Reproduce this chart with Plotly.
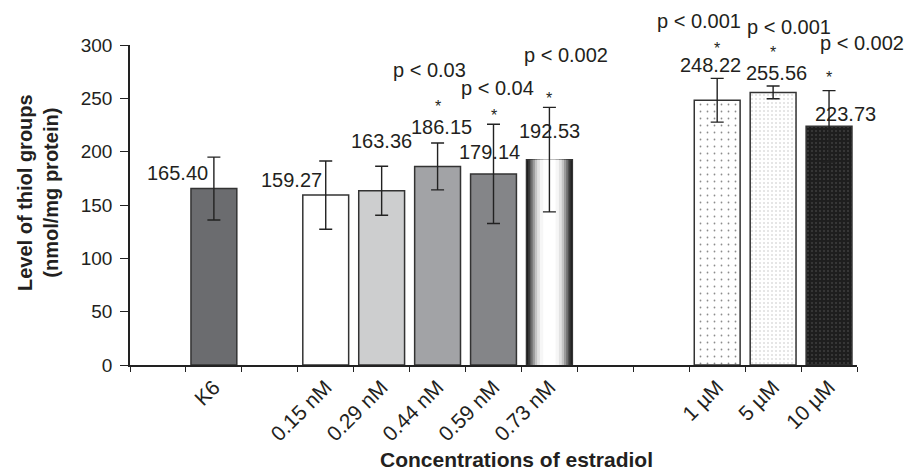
import plotly.graph_objects as go

# ---------------- data ----------------
axis_slots = ["_a", "K6", "_b", "0.15 nM", "0.29 nM", "0.44 nM", "0.59 nM", "0.73 nM",
              "_c", "_d", "1 µM", "5 µM", "10 µM"]
categories = ["K6", "0.15 nM", "0.29 nM", "0.44 nM", "0.59 nM", "0.73 nM", "1 µM", "5 µM", "10 µM"]
values = [165.40, 159.27, 163.36, 186.15, 179.14, 192.53, 248.22, 255.56, 223.73]
sd = [29.5, 32.0, 23.0, 22.0, 46.5, 49.0, 20.5, 6.0, 33.5]
p_labels = [None, None, None, "p < 0.03", "p < 0.04", "p < 0.002", "p < 0.001", "p < 0.001", "p < 0.002"]
y_ticks = [0, 50, 100, 150, 200, 250, 300]
x_title = "Concentrations of estradiol"
y_title = "Level of thiol groups<br>(nmol/mg protein)"

# ---------------- styles ----------------
FONT = "Liberation Sans, Arial, Helvetica, sans-serif"
TXT = "#231f20"
fills = ["#6b6c6f", "#ffffff", "#cdcecf", "#a2a3a6", "#848588", "#1a1a1a", "#ffffff", "#ffffff", "#1e1e1e"]
# dotted patterns: category -> (fg colour, tile size, solidity)
patterns = {"1 µM": ("#1a1a1a", 7, 0.05), "5 µM": ("#8a8a8a", 4, 0.13), "10 µM": ("#8a8a8a", 4, 0.13)}
# label placement offsets (px): value label, asterisk, p-text
lab_dx = [-36, -34, 0, 4, -4, 0, -7, 3, 16]
lab_dy = [16, 15, 50, 39, 22, 29, 35, 19, 12]
star_dy = [None, None, None, 64, 62, 65, 56, 44, 53]
p_dx = [0, 0, 0, -8, 4, 17, -18, 16, 33]
p_dy = [0, 0, 0, 96, 86, 105, 79, 65, 83]
# cylinder shading bands for the 0.73 nM bar (width, colour)
bands = [(0.76, "#3c3c3c"), (0.68, "#6e6e6e"), (0.6, "#9a9a9a"), (0.52, "#c4c4c4"),
         (0.44, "#e2e2e2"), (0.34, "#f6f6f6"), (0.22, "#ffffff")]
BAR_W = 0.82
OUTLINE = dict(color="#333333", width=1.5)

idx = {c: i for i, c in enumerate(categories)}
full_vals = [values[idx[s]] if s in idx else None for s in axis_slots]
full_sd = [sd[idx[s]] if s in idx else None for s in axis_slots]
tick_text = [s if s in idx else "" for s in axis_slots]

fig = go.Figure()
plain = [c for c in categories if c not in patterns]
fig.add_trace(go.Bar(
    x=plain, y=[values[idx[c]] for c in plain], width=[BAR_W] * len(plain),
    marker=dict(color=[fills[idx[c]] for c in plain], line=OUTLINE),
    hoverinfo="skip", showlegend=False))

for c, (fg, size, sol) in patterns.items():
    fig.add_trace(go.Bar(
        x=[c], y=[values[idx[c]]], width=[BAR_W],
        marker=dict(color=fills[idx[c]], line=OUTLINE,
                    pattern=dict(shape=".", fgcolor=fg, bgcolor=fills[idx[c]],
                                 size=size, solidity=sol)),
        hoverinfo="skip", showlegend=False))

grad_cat = "0.73 nM"
for w, col in bands:
    fig.add_trace(go.Bar(x=[grad_cat], y=[values[idx[grad_cat]]], width=[w],
                         marker=dict(color=col, line=dict(width=0)),
                         hoverinfo="skip", showlegend=False))

fig.add_trace(go.Scatter(
    x=axis_slots, y=full_vals, mode="markers", marker=dict(size=1, opacity=0),
    error_y=dict(type="data", array=full_sd, visible=True, color="#222222", thickness=1.4, width=6.5),
    hoverinfo="skip", showlegend=False))

ann = []
for i, c in enumerate(categories):
    v = values[i]
    ann.append(dict(x=c, y=v, xref="x", yref="y", text=f"{v:.2f}", showarrow=False,
                    xshift=lab_dx[i], yshift=lab_dy[i], yanchor="middle", xanchor="center",
                    font=dict(family=FONT, size=20, color=TXT)))
    if p_labels[i]:
        ann.append(dict(x=c, y=v, xref="x", yref="y", text="*", showarrow=False,
                        yshift=star_dy[i] - 4, yanchor="middle", xanchor="center",
                        font=dict(family=FONT, size=16, color=TXT)))
        ann.append(dict(x=c, y=v, xref="x", yref="y", text=p_labels[i], showarrow=False,
                        xshift=p_dx[i], yshift=p_dy[i], yanchor="middle", xanchor="center",
                        font=dict(family=FONT, size=20, color=TXT)))

ann.append(dict(x=0.531, y=0, xref="paper", yref="paper", text="<b>" + x_title + "</b>",
                showarrow=False, yshift=-108, yanchor="bottom", xanchor="center",
                font=dict(family=FONT, size=21, color=TXT)))
ann.append(dict(x=0, y=0.5375, xref="paper", yref="paper", text="<b>" + y_title + "</b>",
                showarrow=False, xshift=-92, textangle=-90, yanchor="middle", xanchor="center",
                font=dict(family=FONT, size=20, color=TXT)))

fig.update_layout(
    width=909, height=474, margin=dict(l=130, r=52, t=45, b=109),
    paper_bgcolor="white", plot_bgcolor="white", barmode="overlay",
    font=dict(family=FONT, color=TXT),
    annotations=ann,
    xaxis=dict(type="category", categoryorder="array", categoryarray=axis_slots,
               range=[-0.5, len(axis_slots) - 0.5],
               tickmode="array", tickvals=axis_slots, ticktext=tick_text,
               tickson="boundaries", ticks="outside", ticklen=5, tickwidth=1.2, tickcolor="#222",
               showline=True, linecolor="#222", linewidth=1.5, showgrid=False,
               tickangle=-45, tickfont=dict(family=FONT, size=21, color=TXT)),
    yaxis=dict(range=[0, 300], tickmode="array", tickvals=y_ticks,
               ticks="outside", ticklen=8, tickwidth=1.2, tickcolor="#222",
               showline=True, linecolor="#222", linewidth=1.5, showgrid=False, zeroline=False,
               ticklabelstandoff=4, tickfont=dict(family=FONT, size=19, color=TXT)),
)

fig.write_html("out.html")
